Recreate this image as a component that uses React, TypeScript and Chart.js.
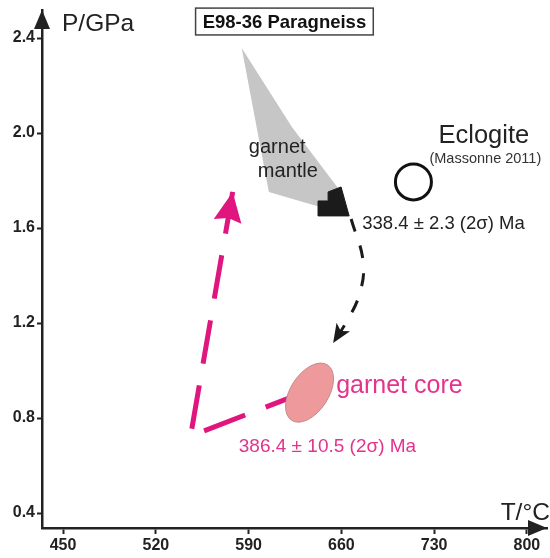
import React, { useEffect, useRef } from "react";
import { Chart, registerables } from "chart.js";

Chart.register(...registerables);

// ---- data (T in °C, P in GPa) ----
const xTicks = [450, 520, 590, 660, 730, 800];
const yTicks = [0.4, 0.8, 1.2, 1.6, 2.0, 2.4];

// garnet mantle P-T field (grey)
const mantleFieldT = [584.8, 622.7, 657.6, 644.7, 605.3, 584.8];
const mantleFieldP = [2.358, 2.025, 1.768, 1.688, 1.752, 2.358];

// garnet mantle estimate (black)
const mantleSampleT = [642.4, 650.0, 650.0, 659.8, 665.9, 642.4, 642.4];
const mantleSampleP = [1.714, 1.714, 1.752, 1.773, 1.651, 1.651, 1.714];

// eclogite (Massonne 2011)
const eclogiteT = [714.4];
const eclogiteP = [1.794];

// garnet core
const coreT = [636.0];
const coreP = [0.907];

// prograde path (magenta)
const progradeT = [620.5, 546.2, 578.0];
const progradeP = [0.884, 0.724, 1.752];

// retrograde path (black dashed)
const retroT = [667.4, 676.5, 673.5, 662.9, 653.8];
const retroP = [1.638, 1.457, 1.318, 1.196, 1.116];

const zip = (a: number[], b: number[]) => a.map((v, i) => ({ x: v, y: b[i] }));

const FONT = "'Liberation Sans', Arial, Helvetica, sans-serif";
const MAGENTA = "#e0157e";
const MAGENTA_TXT = "#e4338c";
const DARK = "#222222";

const overlayPlugin = {
  id: "overlay",
  afterDatasetsDraw(chart: any) {
    const { ctx, scales } = chart;
    const xs = scales.x;
    const ys = scales.y;
    const px = (t: number) => xs.getPixelForValue(t);
    const py = (p: number) => ys.getPixelForValue(p);

    // garnet core ellipse
    ctx.save();
    ctx.beginPath();
    ctx.ellipse(px(coreT[0]), py(coreP[0]), 33, 19, (-57 * Math.PI) / 180, 0, Math.PI * 2);
    ctx.fillStyle = "#ee9a9d";
    ctx.fill();
    ctx.lineWidth = 1;
    ctx.strokeStyle = "#c48a8a";
    ctx.stroke();
    ctx.restore();

    // arrow heads at the end of flagged datasets
    chart.data.datasets.forEach((ds: any, i: number) => {
      if (!ds.arrowHead) return;
      const meta = chart.getDatasetMeta(i);
      const pts = meta.data;
      const n = pts.length;
      if (n < 2) return;
      const tip = pts[n - 1];
      const prev = pts[n - 2];
      let dx = tip.x - prev.x;
      let dy = tip.y - prev.y;
      const d = Math.hypot(dx, dy) || 1;
      dx /= d;
      dy /= d;
      const { len, half, notch, color } = ds.arrowHead;
      const bx = tip.x - dx * len;
      const by = tip.y - dy * len;
      const nx = -dy;
      const ny = dx;
      ctx.save();
      ctx.beginPath();
      ctx.moveTo(tip.x, tip.y);
      ctx.lineTo(bx + nx * half, by + ny * half);
      ctx.lineTo(tip.x - dx * len * (1 - notch), tip.y - dy * len * (1 - notch));
      ctx.lineTo(bx - nx * half, by - ny * half);
      ctx.closePath();
      ctx.fillStyle = color;
      ctx.fill();
      ctx.restore();
    });

    // texts
    const texts = [
      { t: "garnet", x: 590.2, y: 1.916, font: `20px ${FONT}`, color: DARK, align: "left" },
      { t: "mantle", x: 597.0, y: 1.815, font: `20px ${FONT}`, color: DARK, align: "left" },
      { t: "Eclogite", x: 733.3, y: 1.958, font: `25.5px ${FONT}`, color: DARK, align: "left" },
      { t: "(Massonne 2011)", x: 726.5, y: 1.874, font: `14.5px ${FONT}`, color: "#333", align: "left" },
      { t: "338.4 ± 2.3 (2σ) Ma", x: 675.8, y: 1.596, font: `18.5px ${FONT}`, color: DARK, align: "left" },
      { t: "garnet core", x: 656.1, y: 0.905, font: `25px ${FONT}`, color: MAGENTA_TXT, align: "left" },
      { t: "386.4 ± 10.5 (2σ) Ma", x: 582.6, y: 0.657, font: `19px ${FONT}`, color: MAGENTA_TXT, align: "left" },
    ];
    ctx.save();
    ctx.textBaseline = "alphabetic";
    texts.forEach((o) => {
      ctx.font = o.font;
      ctx.fillStyle = o.color;
      ctx.textAlign = o.align;
      ctx.fillText(o.t, px(o.x), py(o.y));
    });
    ctx.restore();
  },
  afterDraw(chart: any) {
    const { ctx, chartArea, scales } = chart;
    const xs = scales.x;
    const ys = scales.y;
    const px = (t: number) => xs.getPixelForValue(t);
    const py = (p: number) => ys.getPixelForValue(p);
    const L = chartArea.left;
    const B = chartArea.bottom;
    ctx.save();
    ctx.fillStyle = DARK;
    // y axis arrow
    ctx.beginPath();
    ctx.moveTo(L, chartArea.top);
    ctx.lineTo(L - 8, chartArea.top + 19);
    ctx.lineTo(L + 8, chartArea.top + 19);
    ctx.closePath();
    ctx.fill();
    // x axis arrow
    ctx.beginPath();
    ctx.moveTo(chartArea.right, B);
    ctx.lineTo(chartArea.right - 19, B - 8);
    ctx.lineTo(chartArea.right - 19, B + 8);
    ctx.closePath();
    ctx.fill();

    // axis titles
    ctx.font = `24.5px ${FONT}`;
    ctx.fillStyle = DARK;
    ctx.textBaseline = "alphabetic";
    ctx.textAlign = "left";
    ctx.fillText("P/GPa", px(449.2), py(2.429));
    ctx.textAlign = "right";
    ctx.fillText("T/°C", px(817.4), py(0.371));

    // sample title box
    const bx0 = px(550.0);
    const bx1 = px(684.1);
    const by0 = py(2.526);
    const by1 = py(2.413);
    ctx.fillStyle = "#ffffff";
    ctx.fillRect(bx0, by0, bx1 - bx0, by1 - by0);
    ctx.lineWidth = 1.5;
    ctx.strokeStyle = "#444";
    ctx.strokeRect(bx0, by0, bx1 - bx0, by1 - by0);
    ctx.font = `bold 18.5px ${FONT}`;
    ctx.fillStyle = "#111";
    ctx.textAlign = "center";
    ctx.textBaseline = "middle";
    ctx.fillText("E98-36 Paragneiss", (bx0 + bx1) / 2, (by0 + by1) / 2 + 1);
    ctx.restore();
  },
};

const zeroPadding = (s: any) => {
  s.paddingLeft = 0;
  s.paddingRight = 0;
  s.paddingTop = 0;
  s.paddingBottom = 0;
};

export default function App() {
  const ref = useRef<HTMLCanvasElement | null>(null);

  useEffect(() => {
    if (!ref.current) return;
    const chart = new Chart(ref.current, {
      type: "line",
      data: {
        datasets: [
          {
            data: zip(mantleFieldT, mantleFieldP),
            fill: "shape",
            backgroundColor: "#c6c6c6",
            borderColor: "#c6c6c6",
            borderWidth: 0,
            pointRadius: 0,
            tension: 0,
            order: 6,
          } as any,
          {
            data: zip(mantleSampleT, mantleSampleP),
            fill: "shape",
            backgroundColor: "#1b1b1b",
            borderColor: "#1b1b1b",
            borderWidth: 1,
            pointRadius: 0,
            tension: 0,
            order: 5,
          },
          {
            data: zip(retroT, retroP),
            fill: false,
            borderColor: "#1b1b1b",
            borderWidth: 3,
            borderDash: [13, 15],
            pointRadius: 0,
            tension: 0.4,
            order: 4,
            arrowHead: { len: 19, half: 8, notch: 0.25, color: "#1b1b1b" },
          },
          {
            data: zip(progradeT, progradeP),
            fill: false,
            borderColor: MAGENTA,
            borderWidth: 5,
            borderDash: [44, 22],
            borderDashOffset: 19,
            pointRadius: 0,
            tension: 0,
            order: 3,
            arrowHead: { len: 30, half: 14, notch: 0.12, color: MAGENTA },
          },
          {
            data: zip(eclogiteT, eclogiteP),
            showLine: false,
            pointRadius: 18,
            pointBorderWidth: 3,
            pointBorderColor: "#111",
            pointBackgroundColor: "rgba(0,0,0,0)",
            order: 1,
          },
        ] as any,
      },
      options: {
        animation: false,
        responsive: false,
        events: [],
        layout: { autoPadding: false, padding: { left: 0, top: 10, right: 3, bottom: 0 } },
        plugins: { legend: { display: false }, tooltip: { enabled: false } },
        scales: {
          x: {
            type: "linear",
            min: 434.1,
            max: 815.2,
            afterFit: (s: any) => {
              s.height = 30;
              zeroPadding(s);
            },
            afterBuildTicks: (s: any) => {
              s.ticks = xTicks.map((v) => ({ value: v }));
            },
            grid: {
              drawOnChartArea: false,
              drawTicks: true,
              tickLength: 6,
              tickColor: DARK,
              tickWidth: 2,
            },
            border: { display: true, color: DARK, width: 2.5 },
            ticks: {
              autoSkip: false,
              maxRotation: 0,
              padding: 2,
              color: DARK,
              font: { family: FONT, size: 16, weight: "bold" },
              callback: (v: any) => String(v),
            },
          },
          y: {
            type: "linear",
            min: 0.337,
            max: 2.518,
            afterFit: (s: any) => {
              s.width = 42;
              zeroPadding(s);
            },
            afterBuildTicks: (s: any) => {
              s.ticks = yTicks.map((v) => ({ value: v }));
            },
            grid: {
              drawOnChartArea: false,
              drawTicks: true,
              tickLength: 5,
              tickColor: DARK,
              tickWidth: 2,
            },
            border: { display: true, color: DARK, width: 2.5 },
            ticks: {
              autoSkip: false,
              padding: 2,
              color: DARK,
              font: { family: FONT, size: 16, weight: "bold" },
              callback: (v: any) => Number(v).toFixed(1),
            },
          },
        },
      } as any,
      plugins: [overlayPlugin],
    });
    return () => chart.destroy();
  }, []);

  return (
    <div style={{ position: "fixed", left: 0, top: 0, width: 550, height: 558, background: "#fff" }}>
      <canvas ref={ref} width={550} height={558} style={{ display: "block" }} />
    </div>
  );
}
